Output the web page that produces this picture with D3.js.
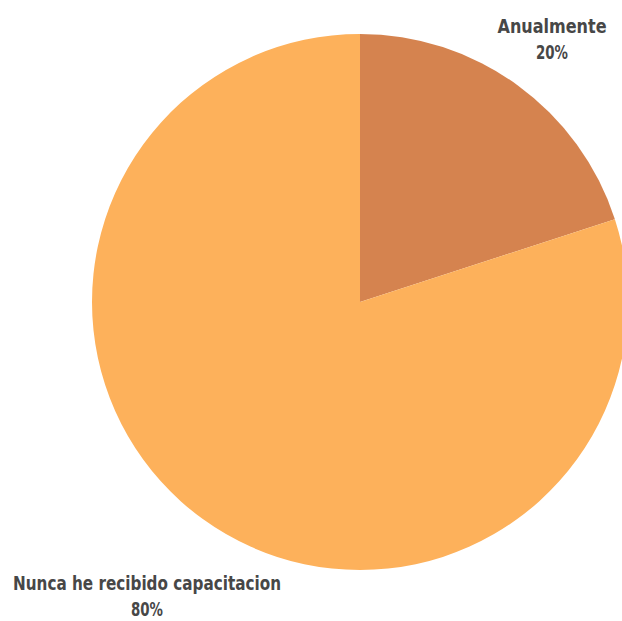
<!DOCTYPE html>
<html>
<head>
<meta charset="utf-8">
<script src="https://cdn.jsdelivr.net/npm/d3@7"></script>
<style>
    body { margin: 0; background: #fff; }
    .sliceLabel {
        font-family: "DejaVu Sans Condensed", "Liberation Sans Narrow", sans-serif;
        font-stretch: condensed;
        font-weight: bold;
        font-size: 20px;
        fill: #474747;
    }
</style>
</head>
<body>
<div id="chart"></div>
<script>
// chart data
var categories = ["Anualmente", "Nunca he recibido capacitacion"];
var values = [20, 80];
var percentLabels = ["20%", "80%"];
var colors = ["#D5834F", "#FDB15B"];

var svgWidth = 622;
var svgHeight = 621;

var svg = d3.select("#chart")
    .append("svg")
    .attr("width", svgWidth)
    .attr("height", svgHeight);

var data = categories.map(function(c, i) {
    return { name: c, value: values[i], label: percentLabels[i], color: colors[i] };
});

var cx = 360, cy = 302, radius = 268;

var pie = d3.pie()
    .sort(null)
    .value(d => d.value);

var arc = d3.arc()
    .innerRadius(0)
    .outerRadius(radius);

var g = svg.append("g")
    .attr("transform", `translate(${cx}, ${cy})`);

g.selectAll("path")
    .data(pie(data))
    .enter()
    .append("path")
    .attr("d", arc)
    .attr("fill", d => d.data.color);

// labels sit outside the pie; widths squeezed to look like a narrow face
var labelPos = [[552, 33], [147, 590]];
var nameWidth = [109, 268];

data.forEach(function(d, i) {
    var x = labelPos[i][0];
    svg.append("text")
        .attr("class", "sliceLabel")
        .attr("text-anchor", "middle")
        .attr("x", x)
        .attr("y", labelPos[i][1])
        .attr("textLength", nameWidth[i])
        .attr("lengthAdjust", "spacingAndGlyphs")
        .text(d.name);
    svg.append("text")
        .attr("class", "sliceLabel")
        .attr("text-anchor", "middle")
        .attr("x", x)
        .attr("y", labelPos[i][1] + 26)
        .attr("textLength", 32)
        .attr("lengthAdjust", "spacingAndGlyphs")
        .text(d.label);
});
</script>
</body>
</html>
